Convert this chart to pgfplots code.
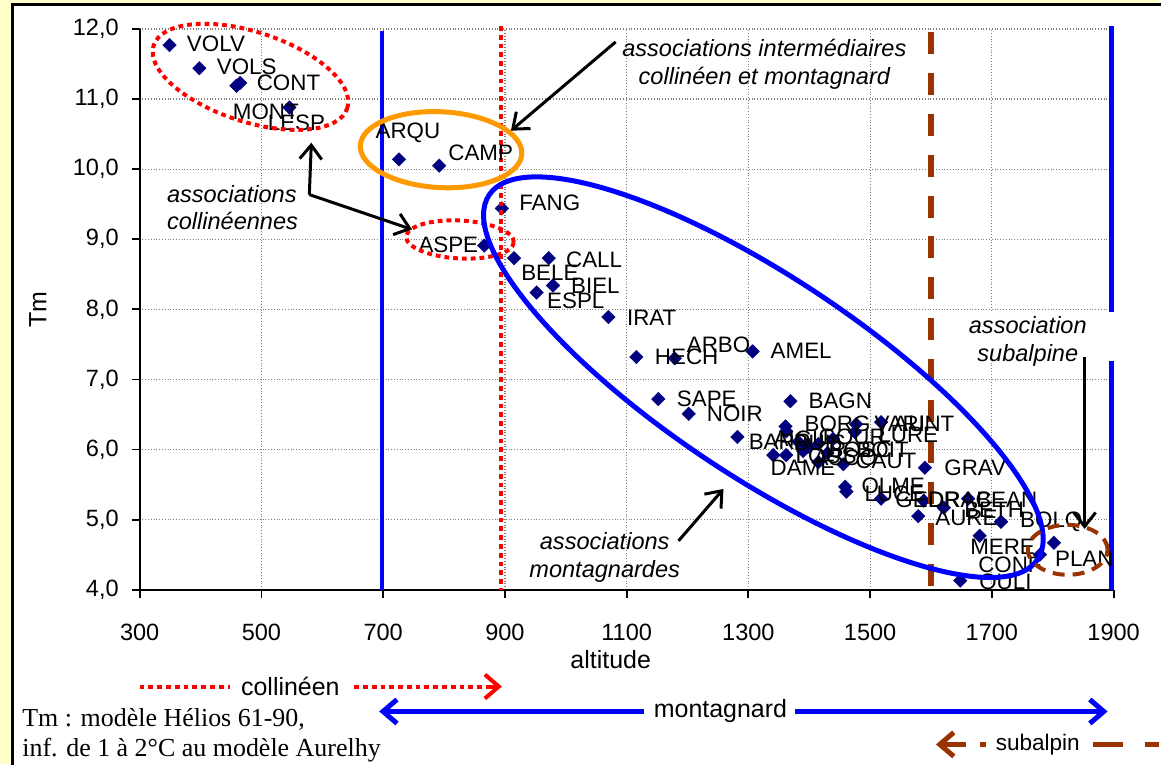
\documentclass[border=0pt]{standalone}
\usepackage{pgfplots}
\pgfplotsset{compat=1.18}
\usepackage{fontspec}
\setmainfont{Liberation Sans}
\newfontfamily\serifrm{Liberation Serif}
\usetikzlibrary{arrows.meta}

\definecolor{bgyel}{RGB}{255,255,204}
\definecolor{navyc}{RGB}{0,0,128}
\definecolor{blueC}{RGB}{0,0,255}
\definecolor{redC}{RGB}{255,0,0}
\definecolor{orangeC}{RGB}{255,153,0}
\definecolor{brownC}{RGB}{153,51,0}

\begin{document}
\begin{tikzpicture}[
  lbl/.style={anchor=west, inner sep=0pt, font=\fontsize{11.2}{12}\selectfont},
  note/.style={align=center, inner sep=0pt, font=\fontsize{11.8}{14}\selectfont\itshape},
  arr/.style={line width=1.5pt, -{Straight Barb[length=7pt,width=11pt,line width=1.5pt]}},
  reddot/.style={redC, line width=2pt, dash pattern=on 2.4pt off 2pt},
]
% fond et cadre (1 unite = 1 pixel de l'image)
\begin{scope}[x=0.5pt,y=-0.5pt]
  \useasboundingbox (0,0) rectangle (1161,766);
  \fill[bgyel] (0,0) rectangle (1161,766);
  \draw[line width=1.5pt, fill=white] (13,5) rectangle (1200,800);
\end{scope}

\begin{axis}[
  at={(70pt,-295.5pt)}, anchor=south west,
  scale only axis, width=488pt, height=281pt,
  xmin=300, xmax=1900, ymin=4, ymax=12,
  xtick={300,500,...,1900}, ytick={4,5,...,12},
  axis x line*=bottom, axis y line*=left,
  axis line style={line width=0.9pt},
  tick align=outside, major tick length=4pt,
  tick style={line width=0.9pt, black},
  grid=major,
  major grid style={densely dotted, gray, line width=0.6pt},
  /pgf/number format/assume math mode=true,
  tick label style={font=\fontsize{11.8}{13}\selectfont},
  xticklabel style={yshift=-9.5pt, /pgf/number format/1000 sep={}},
  yticklabel style={xshift=-3pt, /pgf/number format/.cd, fixed, fixed zerofill, precision=1, use comma},
  clip=false,
]
\addplot[only marks, mark=square*, mark size=2.4pt,
  mark options={rotate=45, fill=navyc, draw=navyc, line width=0.2pt}] table {
x y
349 11.77
398 11.44
459 11.19
465 11.23
546 10.88
726 10.14
792 10.05
895 9.44
866 8.91
915 8.73
972 8.73
979 8.34
952 8.24
1070 7.89
1116 7.32
1179 7.30
1307 7.40
1152 6.72
1202 6.51
1369 6.69
1282 6.18
1361 6.33
1362 6.26
1341 5.92
1362 5.92
1382 6.11
1398 6.04
1415 6.08
1415 5.82
1439 6.15
1390 5.98
1430 5.95
1475 6.25
1477 6.36
1518 6.39
1456 5.79
1459 5.47
1461 5.40
1518 5.30
1590 5.74
1588 5.27
1621 5.17
1579 5.05
1661 5.30
1715 4.97
1680 4.77
1802 4.67
1779 4.50
1648 4.13
};
\end{axis}

\begin{scope}[x=0.5pt,y=-0.5pt]
  % limites des etages
  \draw[blueC, line width=2pt] (383,31) -- (383,591);
  \draw[reddot] (502,26) -- (502,591);
  \draw[brownC, line width=2.6pt, dash pattern=on 11pt off 9.5pt] (933,32) -- (933,600);
  \draw[blueC, line width=2.5pt] (1114,26) -- (1114,591);

  % noms des stations
  \node[lbl] at (187,44) {VOLV};
  \node[lbl] at (217,67) {VOLS};
  \node[lbl] at (257,83) {CONT};
  \node[lbl] at (233,112) {MONT};
  \node[lbl] at (268,123) {LESP};
  \node[lbl] at (376,133) {ARQU};
  \node[lbl] at (449,153) {CAMP};
  \node[lbl] at (520,203) {FANG};
  \node[lbl] at (419,245) {ASPE};
  \node[lbl] at (567,260) {CALL};
  \node[lbl] at (522,273) {BELE};
  \node[lbl] at (572,286) {BIEL};
  \node[lbl] at (548,301) {ESPL};
  \node[lbl] at (628,318) {IRAT};
  \node[lbl] at (656,358) {HECH};
  \node[lbl] at (688,346) {ARBO};
  \node[lbl] at (772,352) {AMEL};
  \node[lbl] at (678,400) {SAPE};
  \node[lbl] at (708,415) {NOIR};
  \node[lbl] at (810,402) {BAGN};
  \node[lbl] at (806,425) {BORG};
  \node[lbl] at (876,425) {VARI};
  \node[lbl] at (895,425) {AUNT};
  \node[lbl] at (880,436) {LURE};
  \node[lbl] at (750,443) {BARR};
  \node[lbl] at (775,440) {AIGU};
  \node[lbl] at (795,444) {BUIS};
  \node[lbl] at (820,438) {GOUR};
  \node[lbl] at (858,451) {BOIT};
  \node[lbl] at (830,451) {BOSC};
  \node[lbl] at (797,457) {LOUS};
  \node[lbl] at (815,459) {ASCO};
  \node[lbl] at (857,462) {CAUT};
  \node[lbl] at (772,469) {DAME};
  \node[lbl] at (863,487) {OLME};
  \node[lbl] at (866,495) {LUCE};
  \node[lbl] at (897,501) {GEDR};
  \node[lbl] at (930,501) {DRAC};
  \node[lbl] at (978,501) {BEAN};
  \node[lbl] at (966,511) {BETH};
  \node[lbl] at (937,519) {AURE};
  \node[lbl] at (946,469) {GRAV};
  \node[lbl] at (1022,523) {BOLQ};
  \node[lbl] at (972,548) {MERE};
  \node[lbl] at (980,566) {CONF};
  \node[lbl] at (981,583) {OULI};
  \node[lbl] at (1057,560) {PLAN};

  % ellipses de regroupement
  \draw[reddot, rotate around={-18:(251,77)}] (251,77) ellipse [x radius=51pt, y radius=22.5pt];
  \draw[orangeC, line width=2.5pt, rotate around={-3:(442,150)}] (442,150) ellipse [x radius=40.5pt, y radius=19pt];
  \draw[reddot, rotate around={-3:(461,240)}] (461,240) ellipse [x radius=27pt, y radius=9.5pt];
  \draw[blueC, line width=2.5pt, rotate around={-33.6:(765,378)}] (765,378) ellipse [x radius=165pt, y radius=50pt];
  \draw[brownC, line width=2pt, dash pattern=on 6pt off 4pt] (1070,551) ellipse [x radius=20pt, y radius=12.5pt];

  % commentaires et fleches
  \node[note, anchor=west, align=left] at (167,208) {associations\\collinéennes};
  \draw[arr] (310,195) -- (312,143);
  \draw[arr] (310,195) -- (413,230);
  \node[note] at (766,64) {associations intermédiaires\\collinéen et montagnard};
  \draw[arr] (617,42) -- (512,131);
  \node[note] at (606,559) {associations\\montagnardes};
  \draw[arr] (680,542) -- (725,490);
  \fill[white] (962,313) rectangle (1117,362);
  \node[note] at (1030,342) {association\\subalpine};
  \draw[arr] (1087,358) -- (1087,530);

  % titres des axes
  \node[rotate=90, font=\fontsize{12.5}{14}\selectfont] at (38,310) {Tm};
  \node[font=\fontsize{12.5}{14}\selectfont] at (612,661) {altitude};

  % etages de vegetation
  \draw[reddot] (140,688) -- (230,688);
  \node[font=\fontsize{12.5}{14}\selectfont] at (291,688) {collinéen};
  \draw[reddot] (355,688) -- (495,688);
  \draw[redC, line width=2pt, -{Straight Barb[length=7pt,width=12pt,line width=2pt]}] (490,688) -- (503,688);
  \draw[blueC, line width=2.5pt, {Straight Barb[length=7pt,width=12pt,line width=2.5pt]}-] (380,713) -- (645,713);
  \node[font=\fontsize{12.5}{14}\selectfont] at (722,713) {montagnard};
  \draw[blueC, line width=2.5pt, -{Straight Barb[length=7pt,width=12pt,line width=2.5pt]}] (797,713) -- (1110,713);
  \draw[brownC, line width=2.5pt, {Straight Barb[length=7pt,width=12pt,line width=2.5pt]}-, dash pattern=on 12pt off 7pt] (938,746) -- (988,746);
  \node[font=\fontsize{11.3}{14}\selectfont] at (1040,746) {subalpin};
  \draw[brownC, line width=2.5pt, dash pattern=on 15pt off 11pt] (1095,746) -- (1161,746);

  \node[anchor=west, align=left, inner sep=0pt, font=\serifrm\fontsize{13}{15}\selectfont] at (22,737)
    {Tm : modèle Hélios 61-90,\\inf. de 1 à 2°C au modèle Aurelhy};
\end{scope}
\end{tikzpicture}
\end{document}
